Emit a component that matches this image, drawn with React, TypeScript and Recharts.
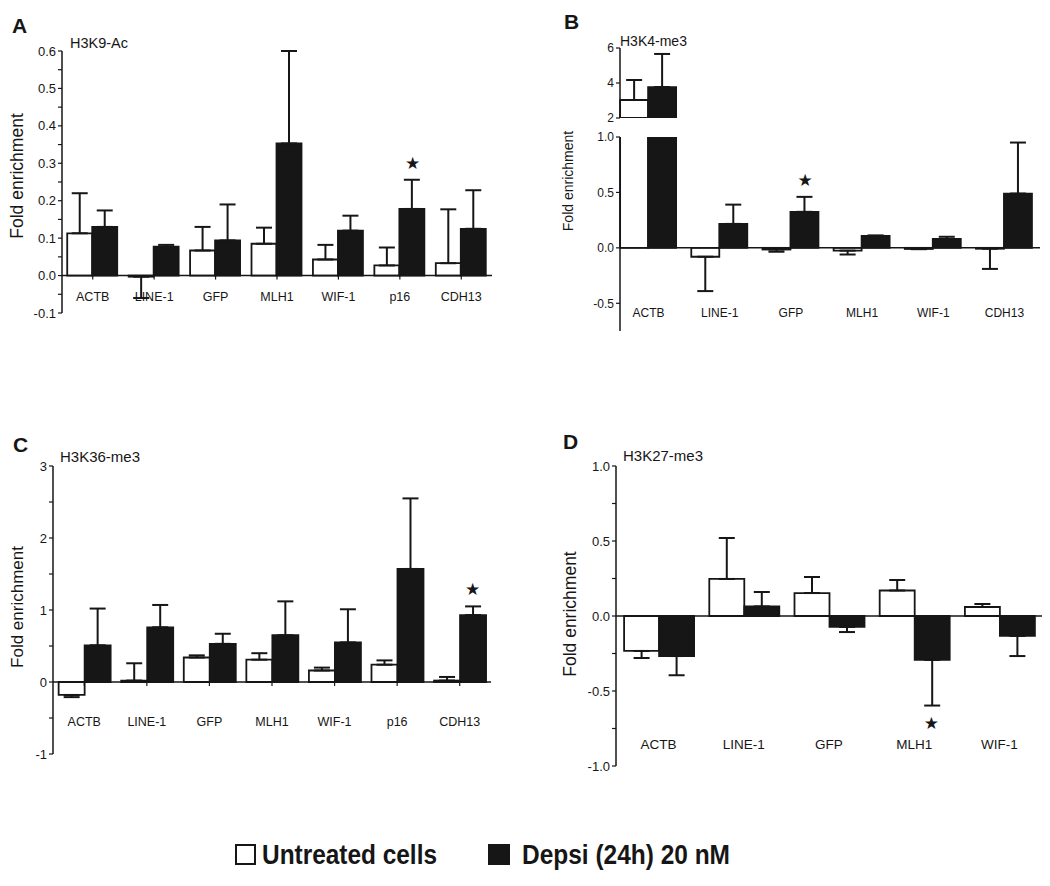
import React from "react";
import { BarChart, Bar, XAxis, YAxis, ErrorBar, ReferenceLine, ReferenceDot } from "recharts";

const FONT = '"Liberation Sans", Arial, sans-serif';
const INK = "#161616";

// A: H3K9-Ac
const catsA = ["ACTB", "LINE-1", "GFP", "MLH1", "WIF-1", "p16", "CDH13"];
const untreatedA = [0.113, -0.003, 0.067, 0.085, 0.043, 0.027, 0.033];
const untreatedEndA = [0.22, -0.06, 0.13, 0.128, 0.082, 0.075, 0.177];
const depsiA = [0.13, 0.077, 0.094, 0.353, 0.12, 0.178, 0.125];
const depsiEndA = [0.174, 0.082, 0.19, 0.6, 0.16, 0.256, 0.228];
const ticksA = [-0.1, -0.05, 0, 0.05, 0.1, 0.15, 0.2, 0.25, 0.3, 0.35, 0.4, 0.45, 0.5, 0.55, 0.6];
const majorsA = [-0.1, 0, 0.1, 0.2, 0.3, 0.4, 0.5, 0.6];

// B: H3K4-me3 (broken axis)
const catsB = ["ACTB", "LINE-1", "GFP", "MLH1", "WIF-1", "CDH13"];
const untreatedB = [3.03, -0.08, -0.015, -0.025, -0.01, -0.008];
const untreatedEndB = [4.17, -0.39, -0.035, -0.06, -0.012, -0.19];
const depsiB = [3.77, 0.216, 0.325, 0.108, 0.08, 0.49];
const depsiEndB = [5.66, 0.39, 0.46, 0.112, 0.1, 0.95];
const ticksBTop = [2, 4, 6];
const ticksB = [-0.5, 0, 0.5, 1];

// C: H3K36-me3
const catsC = ["ACTB", "LINE-1", "GFP", "MLH1", "WIF-1", "p16", "CDH13"];
const untreatedC = [-0.18, 0.02, 0.34, 0.31, 0.16, 0.24, 0.02];
const untreatedEndC = [-0.21, 0.26, 0.37, 0.4, 0.2, 0.3, 0.07];
const depsiC = [0.51, 0.76, 0.53, 0.65, 0.55, 1.57, 0.93];
const depsiEndC = [1.02, 1.07, 0.67, 1.12, 1.01, 2.55, 1.05];
const ticksC = [-1, -0.5, 0, 0.5, 1, 1.5, 2, 2.5, 3];
const majorsC = [-1, 0, 1, 2, 3];

// D: H3K27-me3
const catsD = ["ACTB", "LINE-1", "GFP", "MLH1", "WIF-1"];
const untreatedD = [-0.233, 0.247, 0.153, 0.17, 0.06];
const untreatedEndD = [-0.28, 0.52, 0.26, 0.24, 0.08];
const depsiD = [-0.267, 0.064, -0.073, -0.293, -0.133];
const depsiEndD = [-0.395, 0.16, -0.107, -0.597, -0.267];
const ticksD = [-1, -0.75, -0.5, -0.25, 0, 0.25, 0.5, 0.75, 1];
const majorsD = [-1, -0.5, 0, 0.5, 1];

// one-sided error bars, away from zero
const span = (v: number, end: number): [number, number] =>
  end >= v ? [0, end - v] : [v - end, 0];

const rowsOf = (cats: string[], u: number[], uEnd: number[], d: number[], dEnd: number[]) =>
  cats.map((name, i) => ({
    name,
    u: u[i] as number | null,
    d: d[i] as number | null,
    uErr: span(u[i], uEnd[i]) as [number, number] | null,
    dErr: span(d[i], dEnd[i]) as [number, number] | null,
  }));

const rowsA = rowsOf(catsA, untreatedA, untreatedEndA, depsiA, depsiEndA);
const rowsB = rowsOf(catsB, untreatedB, untreatedEndB, depsiB, depsiEndB);
const rowsBTop = rowsB.map((r) => ({
  ...r,
  u: r.u! > 2 ? r.u : null,
  d: r.d! > 2 ? r.d : null,
  uErr: r.u! > 2 ? r.uErr : null,
  dErr: r.d! > 2 ? r.dErr : null,
}));
const rowsC = rowsOf(catsC, untreatedC, untreatedEndC, depsiC, depsiEndC);
const rowsD = rowsOf(catsD, untreatedD, untreatedEndD, depsiD, depsiEndD);

const fmtWith = (majors: number[], digits: number) => (v: number) =>
  majors.some((m) => Math.abs(m - v) < 1e-9) ? v.toFixed(digits) : "";

type PanelProps = {
  rows: any[];
  left: number;
  top: number;
  width: number;
  height: number;
  margin: { top: number; right: number; bottom: number; left: number };
  yWidth: number;
  domain: [number, number];
  ticks: number[];
  fmt: (v: number) => string;
  gap: number;
  padLeft?: number;
  labelDy: number;
  catFont: number;
  tickFont: number;
  hideX?: boolean;
  zero?: boolean;
  catTicks?: boolean;
  star?: { cat: string; at: number; dir: number };
};

const X_H = 10;

function Panel(p: PanelProps) {
  const plotW = p.width - p.margin.left - p.margin.right - p.yWidth - (p.padLeft ?? 0);
  const plotH = p.height - p.margin.top - p.margin.bottom - X_H;
  const band = plotW / p.rows.length;
  const barW = (band * (1 - 2 * p.gap)) / 2;
  // distance from plot bottom up to the zero line
  const zeroUp = ((0 - p.domain[0]) / (p.domain[1] - p.domain[0])) * plotH;
  return (
    <div style={{ position: "absolute", left: p.left, top: p.top }}>
      <BarChart
        width={p.width}
        height={p.height}
        data={p.rows}
        margin={p.margin}
        barGap={0}
        barCategoryGap={`${p.gap * 100}%`}
      >
        <XAxis
          dataKey="name"
          hide={p.hideX}
          axisLine={false}
          tickLine={false}
          tickSize={0}
          tickMargin={0}
          height={X_H}
          interval={0}
          padding={{ left: p.padLeft ?? 0, right: 0 }}
          tick={(t: any) => (
            <g>
              {p.catTicks && (
                <line x1={t.x} x2={t.x} y1={t.y - zeroUp} y2={t.y - zeroUp + 4} stroke={INK} strokeWidth={1.2} />
              )}
              <text
                x={t.x}
                y={t.y + p.labelDy}
                textAnchor="middle"
                fontSize={p.catFont}
                fontFamily={FONT}
                fill={INK}
              >
                {t.payload.value}
              </text>
            </g>
          )}
        />
        <YAxis
          type="number"
          domain={p.domain}
          ticks={p.ticks}
          allowDataOverflow
          interval={0}
          width={p.yWidth}
          axisLine={{ stroke: INK, strokeWidth: 1.5 }}
          tickLine={{ stroke: INK, strokeWidth: 1.2 }}
          tickSize={4}
          tickMargin={2}
          tick={{ fontSize: p.tickFont, fill: INK, fontFamily: FONT }}
          tickFormatter={p.fmt}
        />
        {p.zero && <ReferenceLine y={0} stroke={INK} strokeWidth={1.5} />}
        <Bar dataKey="u" fill="#ffffff" stroke={INK} strokeWidth={1.8} isAnimationActive={false}>
          <ErrorBar dataKey="uErr" width={8} stroke={INK} strokeWidth={2} direction="y" isAnimationActive={false} />
        </Bar>
        <Bar dataKey="d" fill={INK} stroke={INK} strokeWidth={1.8} isAnimationActive={false}>
          <ErrorBar dataKey="dErr" width={8} stroke={INK} strokeWidth={2} direction="y" isAnimationActive={false} />
        </Bar>
        {p.star && (
          <ReferenceDot
            x={p.star.cat}
            y={p.star.at}
            r={0}
            ifOverflow="visible"
            shape={(s: any) => (
              <text
                x={s.cx + barW / 2}
                y={s.cy - p.star!.dir * 17}
                textAnchor="middle"
                dominantBaseline="central"
                fontSize={17}
                fontFamily='"DejaVu Sans", sans-serif'
                fill={INK}
              >
                ★
              </text>
            )}
          />
        )}
      </BarChart>
    </div>
  );
}

export default function App() {
  const txt = { fontFamily: FONT, fill: INK };
  return (
    <div style={{ position: "absolute", left: 0, top: 0, width: 1050, height: 886, background: "#fff", fontFamily: FONT }}>
      <Panel
        rows={rowsA}
        left={0}
        top={0}
        width={500}
        height={330}
        margin={{ top: 51, right: 8, bottom: 7, left: 12 }}
        yWidth={50}
        domain={[-0.1, 0.6]}
        ticks={ticksA}
        fmt={fmtWith(majorsA, 1)}
        gap={0.085}
        labelDy={-12}
        catFont={12.5}
        tickFont={13}
        zero
        catTicks
        star={{ cat: "p16", at: 0.256, dir: 1 }}
      />
      <Panel
        rows={rowsBTop}
        left={540}
        top={0}
        width={510}
        height={125}
        margin={{ top: 48, right: 10, bottom: 7, left: 40 }}
        yWidth={40}
        domain={[2, 6]}
        ticks={ticksBTop}
        fmt={(v) => String(v)}
        gap={0.1}
        padLeft={-7}
        labelDy={0}
        catFont={12}
        tickFont={12}
        hideX
      />
      <Panel
        rows={rowsB}
        left={540}
        top={100}
        width={510}
        height={250}
        margin={{ top: 37, right: 10, bottom: 9, left: 40 }}
        yWidth={40}
        domain={[-0.75, 1]}
        ticks={ticksB}
        fmt={(v) => v.toFixed(1)}
        gap={0.1}
        padLeft={-7}
        labelDy={-14}
        catFont={12}
        tickFont={12}
        zero
        star={{ cat: "GFP", at: 0.46, dir: 1 }}
      />
      <Panel
        rows={rowsC}
        left={0}
        top={420}
        width={500}
        height={360}
        margin={{ top: 46, right: 9, bottom: 16, left: 8 }}
        yWidth={45}
        domain={[-1, 3]}
        ticks={ticksC}
        fmt={fmtWith(majorsC, 0)}
        gap={0.09}
        labelDy={-28}
        catFont={12.5}
        tickFont={13}
        zero
        catTicks
        star={{ cat: "CDH13", at: 1.05, dir: 1 }}
      />
      <Panel
        rows={rowsD}
        left={540}
        top={420}
        width={510}
        height={370}
        margin={{ top: 46, right: 8, bottom: 14, left: 36 }}
        yWidth={40}
        domain={[-1, 1]}
        ticks={ticksD}
        fmt={fmtWith(majorsD, 1)}
        gap={0.095}
        labelDy={-17}
        catFont={13.5}
        tickFont={13}
        zero
        star={{ cat: "MLH1", at: -0.597, dir: -1 }}
      />

      <svg width={1050} height={886} style={{ position: "absolute", left: 0, top: 0, pointerEvents: "none" }}>
        <g {...txt} fontWeight="bold" fontSize={21}>
          <text x={12} y={33}>A</text>
          <text x={564} y={29}>B</text>
          <text x={13} y={452}>C</text>
          <text x={563} y={449}>D</text>
        </g>
        <g {...txt}>
          <text x={70} y={48} fontSize={14.5}>H3K9-Ac</text>
          <text x={620} y={46} fontSize={14}>H3K4-me3</text>
          <text x={60} y={462} fontSize={15}>H3K36-me3</text>
          <text x={623} y={461} fontSize={15}>H3K27-me3</text>
        </g>
        <g {...txt} textAnchor="middle" dominantBaseline="central">
          <text x={17} y={176} fontSize={17.5} transform="rotate(-90 17 176)">Fold enrichment</text>
          <text x={568} y={181} fontSize={14} transform="rotate(-90 568 181)">Fold enrichment</text>
          <text x={17} y={607} fontSize={17} transform="rotate(-90 17 607)">Fold enrichment</text>
          <text x={570} y={614} fontSize={17.5} transform="rotate(-90 570 614)">Fold enrichment</text>
        </g>
        <rect x={236} y={845} width={19} height={19} fill="#fff" stroke={INK} strokeWidth={2} />
        <rect x={488} y={844} width={22} height={21} fill={INK} />
        <g fontFamily={FONT} fontWeight="bold" fontSize={28} fill={INK}>
          <text x={262} y={864} textLength={175} lengthAdjust="spacingAndGlyphs">Untreated cells</text>
          <text x={522} y={864} textLength={208} lengthAdjust="spacingAndGlyphs">Depsi (24h) 20 nM</text>
        </g>
      </svg>
    </div>
  );
}
